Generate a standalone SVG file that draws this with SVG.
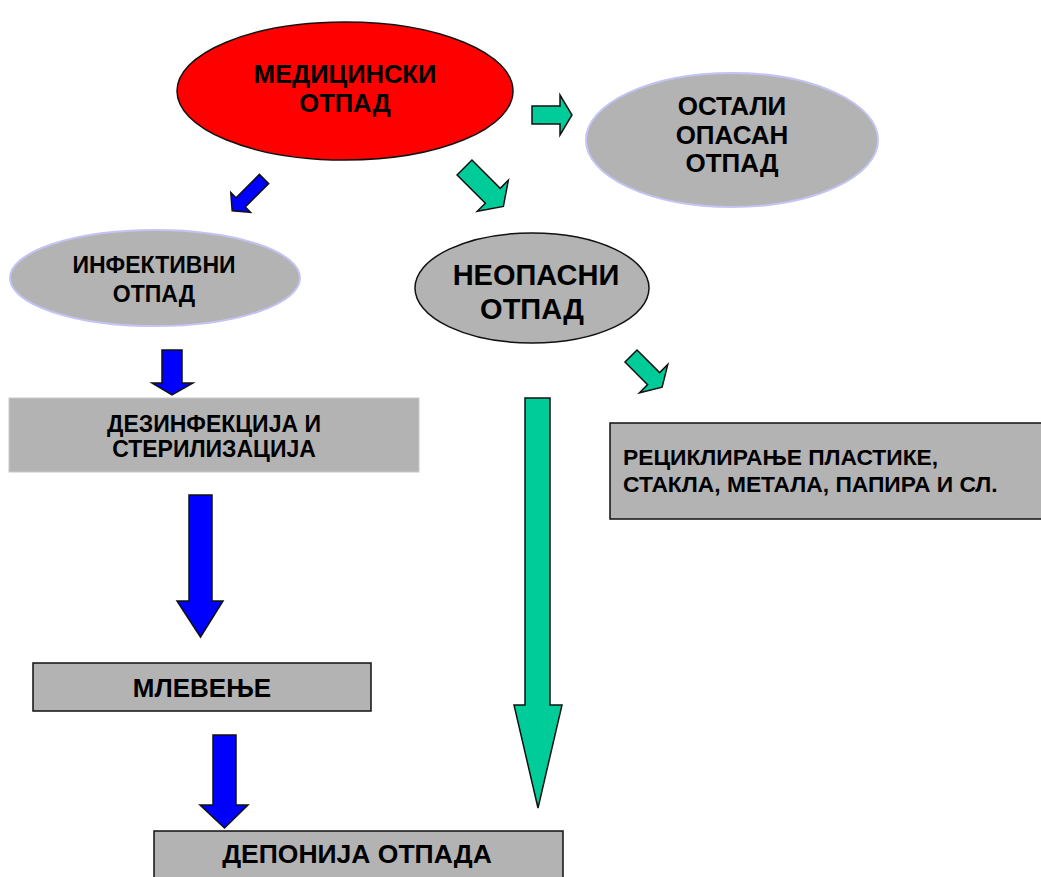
<svg xmlns="http://www.w3.org/2000/svg" width="1041" height="877" viewBox="0 0 1041 877">
<style>
text{font-family:"Liberation Sans",Arial,sans-serif;font-weight:bold;fill:#000;}
.c{text-anchor:middle;}
.gray{fill:#b3b3b3;}
.lav{stroke:#c4c4f4;stroke-width:2;}
.blk{stroke:#111;stroke-width:1.5;}
.ab{fill:#0000ff;stroke:#111;stroke-width:1.5;stroke-linejoin:miter;}
.ag{fill:#00cc99;stroke:#111;stroke-width:1.5;stroke-linejoin:miter;}
</style>
<rect width="1041" height="877" fill="#fff"/>
<g id="medicinski">
<ellipse cx="345" cy="91" rx="168" ry="69" fill="#ff0000" class="blk"/>
<text class="c" x="345" y="83" font-size="25.5">МЕДИЦИНСКИ</text>
<text class="c" x="345" y="112" font-size="25.5">ОТПАД</text>
</g>
<g id="ostali">
<ellipse cx="732" cy="140" rx="146" ry="67" class="gray lav"/>
<text class="c" x="732" y="115" font-size="26">ОСТАЛИ</text>
<text class="c" x="732" y="144" font-size="26">ОПАСАН</text>
<text class="c" x="732" y="172" font-size="26">ОТПАД</text>
</g>
<g id="infektivni">
<ellipse cx="155" cy="278" rx="145" ry="48" class="gray lav"/>
<text class="c" x="154" y="273" font-size="23">ИНФЕКТИВНИ</text>
<text class="c" x="154" y="302" font-size="23">ОТПАД</text>
</g>
<g id="neopasni">
<ellipse cx="532" cy="288" rx="117" ry="55" class="gray blk"/>
<text class="c" x="536" y="285" font-size="29">НЕОПАСНИ</text>
<text class="c" x="532" y="319" font-size="29">ОТПАД</text>
</g>
<g id="dezinfekcija">
<rect x="9" y="398" width="410" height="74" class="gray" stroke="#c8c8c8" stroke-width="1"/>
<text class="c" x="214" y="432" font-size="23">ДЕЗИНФЕКЦИЈА И</text>
<text class="c" x="214" y="457" font-size="23">СТЕРИЛИЗАЦИЈА</text>
</g>
<g id="recikliranje">
<rect x="610" y="423" width="440" height="96" class="gray blk"/>
<text x="623" y="465" font-size="22.8">РЕЦИКЛИРАЊЕ ПЛАСТИКЕ,</text>
<text x="623" y="492" font-size="22.8">СТАКЛА, МЕТАЛА, ПАПИРА И СЛ.</text>
</g>
<g id="mlevenje">
<rect x="33" y="663" width="338" height="48" class="gray blk"/>
<text class="c" x="202" y="697" font-size="26">МЛЕВЕЊЕ</text>
</g>
<g id="deponija">
<rect x="154" y="831" width="409" height="60" class="gray blk"/>
<text class="c" x="357" y="863" font-size="26.5">ДЕПОНИЈА ОТПАДА</text>
</g>
<g id="connectors">
<polygon class="ag" points="532,106 560,106 560,95 572,115 560,135 560,124 532,124"/>
<polygon class="ag" transform="translate(464.5,167.5) rotate(45)" points="0,-10.5 40,-10.5 40,-22 55,0 40,22 40,10.5 0,10.5"/>
<polygon class="ag" transform="translate(631,356) rotate(45)" points="0,-8.5 32,-8.5 32,-20 44,0 32,20 32,8.5 0,8.5"/>
<polygon class="ab" transform="translate(264,179) rotate(135)" points="0,-6.5 33,-6.5 33,-14 45,0 33,14 33,6.5 0,6.5"/>
<polygon class="ab" points="162,350 182,350 182,383 193,383 172,395 152,383 162,383"/>
<polygon class="ab" points="189,495 212,495 212,601 223,601 200.5,637 177,601 189,601"/>
<polygon class="ab" points="213,735 236,735 236,805 248,805 224.5,828 200,805 213,805"/>
<polygon class="ag" points="525,398 550,398 550,705 562,705 538,808 514,705 525,705"/>
</g>
</svg>
